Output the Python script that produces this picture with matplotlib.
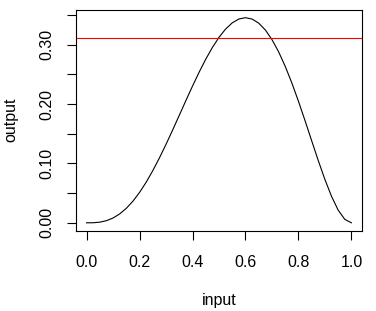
import matplotlib
matplotlib.use('Agg')
import matplotlib.pyplot as plt

plt.rcParams['font.family'] = ['Liberation Sans', 'DejaVu Sans']

# values
x_input = [0.0, 0.025, 0.05, 0.075, 0.1, 0.125, 0.15, 0.175, 0.2, 0.225,
           0.25, 0.275, 0.3, 0.325, 0.35, 0.375, 0.4, 0.425, 0.45, 0.475,
           0.5, 0.525, 0.55, 0.575, 0.6, 0.625, 0.65, 0.675, 0.7, 0.725,
           0.75, 0.775, 0.8, 0.825, 0.85, 0.875, 0.9, 0.925, 0.95, 0.975, 1.0]
y_output = [0.0, 0.0001, 0.0011, 0.0036, 0.0081, 0.0150, 0.0244, 0.0365, 0.0512, 0.0684,
            0.0879, 0.1093, 0.1323, 0.1564, 0.1811, 0.2060, 0.2304, 0.2538, 0.2757, 0.2954,
            0.3125, 0.3265, 0.3369, 0.3434, 0.3456, 0.3433, 0.3364, 0.3249, 0.3087, 0.2882,
            0.2637, 0.2357, 0.2048, 0.1720, 0.1382, 0.1047, 0.0729, 0.0445, 0.0214, 0.0058, 0.0]
threshold = 0.3115

xticks = [0.0, 0.2, 0.4, 0.6, 0.8, 1.0]
yticks = [0.0, 0.05, 0.10, 0.15, 0.20, 0.25, 0.30, 0.35]
ylabels = ['0.00', '', '0.10', '', '0.20', '', '0.30', '']

fig = plt.figure(figsize=(3.76, 3.11), dpi=100)
ax = fig.add_axes([76/376, 80/311, 286/376, 221.5/311])

ax.plot(x_input, y_output, color='black', lw=0.8)
ax.axhline(threshold, color='red', lw=0.8)

ax.set_xlim(-0.04, 1.04)
ax.set_ylim(-0.0138, 0.3594)

ax.set_xticks(xticks)
ax.set_xticklabels(['0.0', '0.2', '0.4', '0.6', '0.8', '1.0'])
ax.set_yticks(yticks)
ax.set_yticklabels(ylabels, rotation=90, va='center')
ax.tick_params(direction='out', length=6.5, width=0.8, labelsize=11.5)
ax.tick_params(axis='x', pad=11)
ax.tick_params(axis='y', pad=9)
for s in ax.spines.values():
    s.set_linewidth(0.8)

ax.set_xlabel('input', fontsize=11.5, labelpad=16)
ax.set_ylabel('output', fontsize=11.5, labelpad=15)

fig.savefig('out.png', dpi=100)
